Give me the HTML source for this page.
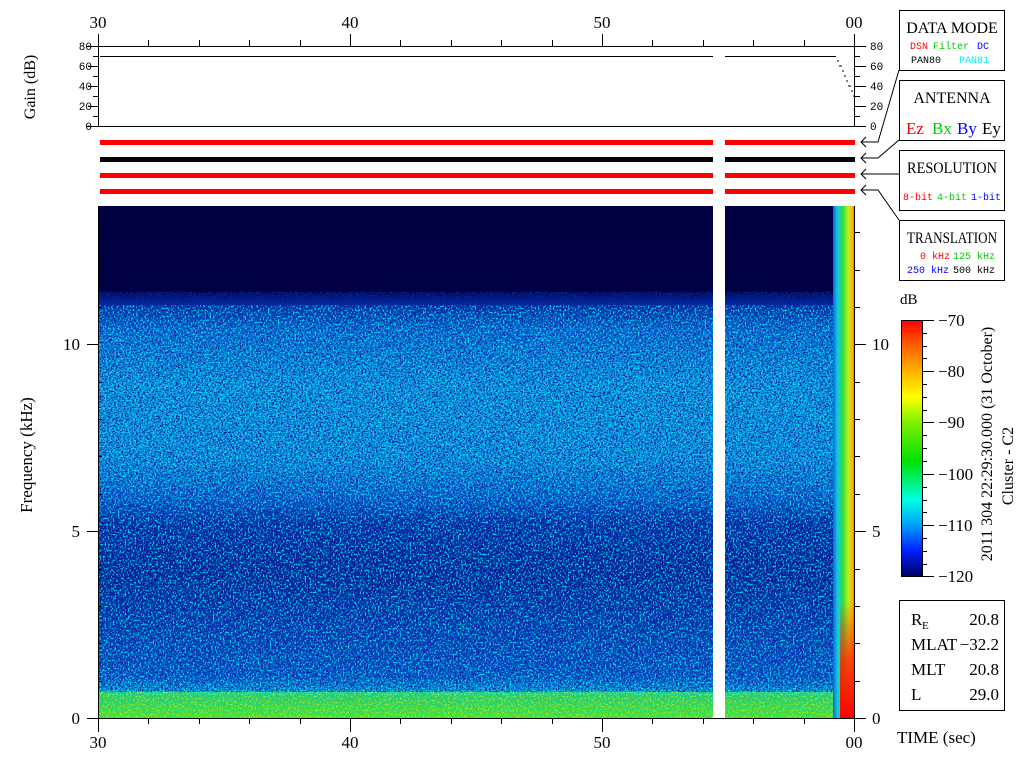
<!DOCTYPE html>
<html><head><meta charset="utf-8"><style>
html,body{margin:0;padding:0;background:#fff;width:1024px;height:768px;overflow:hidden}
svg{display:block}
text{font-family:"Liberation Serif",serif;fill:#000}
.m{font-family:"Liberation Mono",monospace}
</style></head><body>
<svg width="1024" height="768" viewBox="0 0 1024 768" xmlns="http://www.w3.org/2000/svg">
<defs>
<linearGradient id="sg" x1="0" y1="206" x2="0" y2="718" gradientUnits="userSpaceOnUse">
<stop offset="0" stop-color="#000040"/>
<stop offset="0.165" stop-color="#000044"/>
<stop offset="0.19" stop-color="#0824a0"/>
<stop offset="0.24" stop-color="#1068dc"/>
<stop offset="0.35" stop-color="#1598e8"/>
<stop offset="0.5" stop-color="#1590e6"/>
<stop offset="0.57" stop-color="#1060d8"/>
<stop offset="0.62" stop-color="#0a26a8"/>
<stop offset="0.72" stop-color="#081c96"/>
<stop offset="0.8" stop-color="#0c30b0"/>
<stop offset="0.92" stop-color="#1050d0"/>
<stop offset="0.945" stop-color="#1090e0"/>
<stop offset="0.95" stop-color="#20c880"/>
<stop offset="1" stop-color="#40e040"/>
</linearGradient>
<linearGradient id="strip" x1="833" y1="0" x2="855" y2="0" gradientUnits="userSpaceOnUse">
<stop offset="0" stop-color="#1060e0"/>
<stop offset="0.2" stop-color="#10c8e0"/>
<stop offset="0.45" stop-color="#30e040"/>
<stop offset="0.7" stop-color="#c0f020"/>
<stop offset="0.9" stop-color="#ffb000"/>
<stop offset="1" stop-color="#ff3000"/>
</linearGradient>
<linearGradient id="stripb" x1="0" y1="600" x2="0" y2="718" gradientUnits="userSpaceOnUse">
<stop offset="0" stop-color="#ff2000" stop-opacity="0"/>
<stop offset="0.5" stop-color="#ff2000" stop-opacity="0.8"/>
<stop offset="1" stop-color="#ff0000" stop-opacity="1"/>
</linearGradient>
<linearGradient id="cb" x1="0" y1="576" x2="0" y2="320" gradientUnits="userSpaceOnUse">
<stop offset="0" stop-color="#000060"/>
<stop offset="0.1" stop-color="#0020ff"/>
<stop offset="0.2" stop-color="#00a0ff"/>
<stop offset="0.3" stop-color="#00ffe0"/>
<stop offset="0.45" stop-color="#00e000"/>
<stop offset="0.6" stop-color="#80f000"/>
<stop offset="0.7" stop-color="#ffff00"/>
<stop offset="0.8" stop-color="#ffb000"/>
<stop offset="0.9" stop-color="#ff6000"/>
<stop offset="1" stop-color="#ff0000"/>
</linearGradient>
<filter id="nz" x="0" y="0" width="100%" height="100%">
<feTurbulence type="fractalNoise" baseFrequency="0.55 0.8" numOctaves="2" seed="3"/>
<feColorMatrix type="matrix" values="0 0 0 0 0  0 0 0 0 0.02  0 0 0 0 0.3  -12 0 0 0 5.9"/>
</filter>
<filter id="nz2" x="0" y="0" width="100%" height="100%">
<feTurbulence type="fractalNoise" baseFrequency="0.6 0.5" numOctaves="2" seed="9"/>
<feColorMatrix type="matrix" values="0 0 0 0 0  0 0 0 0 0.95  0 0 0 0 1  9 0 0 0 -4.9"/>
</filter>
<filter id="nz3" x="0" y="0" width="100%" height="100%">
<feTurbulence type="fractalNoise" baseFrequency="0.6 0.5" numOctaves="2" seed="5"/>
<feColorMatrix type="matrix" values="0 0 0 0 1  0 0 0 0 1  0 0 0 0 0  9 0 0 0 -4.9"/>
</filter>
</defs>

<rect x="99" y="206" width="756" height="512" fill="url(#sg)"/>
<rect x="99" y="292" width="734" height="400" filter="url(#nz)"/>
<rect x="99" y="305" width="734" height="390" filter="url(#nz2)" opacity="0.8"/>
<rect x="99" y="692" width="734" height="26" filter="url(#nz3)" opacity="0.45"/>
<rect x="833" y="206" width="22" height="512" fill="url(#strip)"/>
<rect x="840" y="600" width="15" height="118" fill="url(#stripb)"/>
<rect x="713" y="130" width="12" height="590" fill="#fff"/>

<g stroke="#000" stroke-width="1" fill="none">
<line x1="98.5" y1="34" x2="98.5" y2="126"/>
<line x1="854.5" y1="34" x2="854.5" y2="126"/>
<line x1="87" y1="46.5" x2="866" y2="46.5"/>
<line x1="87" y1="126.5" x2="866" y2="126.5"/>
<line x1="100" y1="56.5" x2="713" y2="56.5"/>
<line x1="725" y1="56.5" x2="836" y2="56.5"/>
<path d="M837 61h2M839 66h3M842 71h2M844 76h2M846 81h2M848 86h3M851 91h2M853 96h2"/>
<path d="M88 66.5h10M88 86.5h10M88 106.5h10M93 56.5h5M93 76.5h5M93 96.5h5M93 116.5h5"/>
<path d="M855 66.5h11M855 86.5h11M855 106.5h11M855 56.5h5M855 76.5h5M855 96.5h5M855 116.5h5"/>
<path d="M148.5 40v6M199.5 40v6M249.5 40v6M300.5 40v6M400.5 40v6M451.5 40v6M501.5 40v6M552.5 40v6M652.5 40v6M703.5 40v6M753.5 40v6M804.5 40v6M350.5 34v12M602.5 34v12"/>
</g>
<g font-size="11">
<text x="92" y="50" text-anchor="end" class="m">80</text>
<text x="92" y="70" text-anchor="end" class="m">60</text>
<text x="92" y="90" text-anchor="end" class="m">40</text>
<text x="92" y="110" text-anchor="end" class="m">20</text>
<text x="92" y="130" text-anchor="end" class="m">0</text>
<text x="870" y="50" class="m">80</text>
<text x="870" y="70" class="m">60</text>
<text x="870" y="90" class="m">40</text>
<text x="870" y="110" class="m">20</text>
<text x="870" y="130" class="m">0</text>
</g>
<text x="35" y="87" font-size="16" text-anchor="middle" transform="rotate(-90 35 87)">Gain (dB)</text>
<g font-size="17" text-anchor="middle">
<text x="98" y="28">30</text><text x="350" y="28">40</text><text x="602" y="28">50</text><text x="854" y="28">00</text>
<text x="98" y="748">30</text><text x="350" y="748">40</text><text x="602" y="748">50</text><text x="854" y="748">00</text>
</g>

<rect x="100" y="140" width="613" height="5" fill="#f00"/><rect x="725" y="140" width="130" height="5" fill="#f00"/>
<rect x="100" y="157" width="613" height="5" fill="#000"/><rect x="725" y="157" width="130" height="5" fill="#000"/>
<rect x="100" y="173" width="613" height="5" fill="#f00"/><rect x="725" y="173" width="130" height="5" fill="#f00"/>
<rect x="100" y="189" width="613" height="5" fill="#f00"/><rect x="725" y="189" width="130" height="5" fill="#f00"/>

<g stroke="#000" stroke-width="1" fill="none">
<line x1="98.5" y1="206" x2="98.5" y2="732"/>
<line x1="854.5" y1="206" x2="854.5" y2="732"/>
<line x1="87" y1="718.5" x2="866" y2="718.5"/>
<path d="M87 531.5h11M87 344.5h11M855 531.5h11M855 344.5h11"/>
<path d="M98 681.5h4M98 643.5h4M98 606.5h4M98 569.5h4M98 494.5h4M98 456.5h4M98 419.5h4M98 382.5h4M98 307.5h4M98 270.5h4M98 232.5h4"/>
<path d="M855 681.5h5M855 643.5h5M855 606.5h5M855 569.5h5M855 494.5h5M855 456.5h5M855 419.5h5M855 382.5h5M855 307.5h5M855 270.5h5M855 232.5h5"/>
<path d="M350.5 718v14M602.5 718v14M148.5 718v6M199.5 718v6M249.5 718v6M300.5 718v6M400.5 718v6M451.5 718v6M501.5 718v6M552.5 718v6M652.5 718v6M703.5 718v6M753.5 718v6M804.5 718v6"/>
</g>
<g font-size="17">
<text x="80" y="724" text-anchor="end">0</text>
<text x="80" y="537" text-anchor="end">5</text>
<text x="80" y="350" text-anchor="end">10</text>
<text x="872" y="724">0</text>
<text x="872" y="537">5</text>
<text x="872" y="350">10</text>
</g>
<text x="32" y="455" font-size="17" text-anchor="middle" transform="rotate(-90 32 455)">Frequency (kHz)</text>
<text x="897" y="743" font-size="17">TIME (sec)</text>

<g stroke="#000" fill="none" stroke-width="1">
<rect x="899.5" y="10.5" width="105" height="60"/>
<rect x="899.5" y="80.5" width="105" height="60"/>
<rect x="899.5" y="150.5" width="105" height="60"/>
<rect x="899.5" y="220.5" width="105" height="60"/>
<path d="M899 70L878 142H861M866 137L861 142L866 147"/>
<path d="M899 140L878 158H861M866 153L861 158L866 163"/>
<path d="M899 174H861M866 169L861 174L866 179"/>
<path d="M899 220L878 190H861M866 185L861 190L866 195"/>
</g>
<text x="952" y="33" font-size="16" text-anchor="middle">DATA MODE</text>
<g font-size="10">
<text x="910" y="49" class="m" style="fill:#f00">DSN</text>
<text x="933" y="49" class="m" style="fill:#0c0">Filter</text>
<text x="977" y="49" class="m" style="fill:#00f">DC</text>
<text x="911" y="63" class="m">PAN80</text>
<text x="959" y="63" class="m" style="fill:#0ee">PAN81</text>
</g>
<text x="952" y="103" font-size="16" text-anchor="middle">ANTENNA</text>
<g font-size="17">
<text x="906" y="134" style="fill:#f00">Ez</text>
<text x="932" y="134" style="fill:#0c0">Bx</text>
<text x="957" y="134" style="fill:#00f">By</text>
<text x="982" y="134">Ey</text>
</g>
<text x="952" y="173" font-size="16" text-anchor="middle" textLength="90" lengthAdjust="spacingAndGlyphs">RESOLUTION</text>
<g font-size="10">
<text x="903" y="200" class="m" style="fill:#f00">8-bit</text>
<text x="937" y="200" class="m" style="fill:#0c0">4-bit</text>
<text x="971" y="200" class="m" style="fill:#00f">1-bit</text>
<text x="920" y="259" class="m" style="fill:#f00">0 kHz</text>
<text x="953" y="259" class="m" style="fill:#0c0">125 kHz</text>
<text x="907" y="273" class="m" style="fill:#00f">250 kHz</text>
<text x="953" y="273" class="m">500 kHz</text>
</g>
<text x="952" y="243" font-size="16" text-anchor="middle" textLength="90" lengthAdjust="spacingAndGlyphs">TRANSLATION</text>

<text x="900" y="304" font-size="15">dB</text>
<rect x="901" y="320" width="21" height="256" fill="url(#cb)"/>
<rect x="901.5" y="320.5" width="21" height="256" fill="none" stroke="#000"/>
<g stroke="#000" fill="none">
<path d="M922 320.5h12M922 371.5h12M922 422.5h12M922 474.5h12M922 525.5h12M922 576.5h12"/>
<path d="M922 333.5h5M922 346.5h5M922 358.5h5M922 384.5h5M922 397.5h5M922 410.5h5M922 435.5h5M922 448.5h5M922 461.5h5M922 487.5h5M922 500.5h5M922 512.5h5M922 538.5h5M922 551.5h5M922 564.5h5"/>
</g>
<g font-size="17">
<text x="938" y="326">−70</text><text x="938" y="377">−80</text><text x="938" y="428">−90</text>
<text x="938" y="480">−100</text><text x="938" y="531">−110</text><text x="938" y="582">−120</text>
</g>
<text x="992" y="444" font-size="16" text-anchor="middle" transform="rotate(-90 992 444)">2011 304 22:29:30.000 (31 October)</text>
<text x="1013" y="466" font-size="16" text-anchor="middle" transform="rotate(-90 1013 466)">Cluster - C2</text>

<rect x="899.5" y="600.5" width="105" height="110" fill="none" stroke="#000"/>
<g font-size="17">
<text x="911" y="625">R</text><text x="922" y="629" font-size="11">E</text><text x="999" y="625" text-anchor="end">20.8</text>
<text x="911" y="650">MLAT</text><text x="999" y="650" text-anchor="end">−32.2</text>
<text x="911" y="675">MLT</text><text x="999" y="675" text-anchor="end">20.8</text>
<text x="911" y="700">L</text><text x="999" y="700" text-anchor="end">29.0</text>
</g>
</svg>
</body></html>
